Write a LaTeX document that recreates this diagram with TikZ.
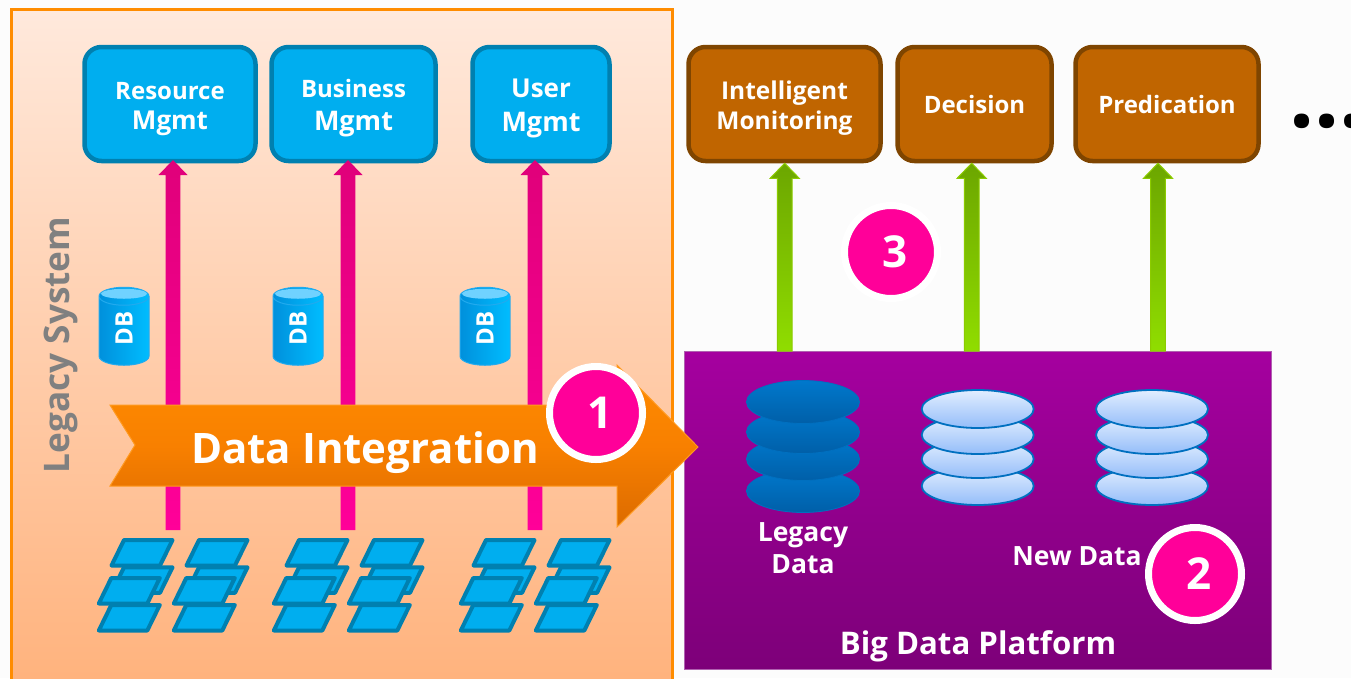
\documentclass[tikz,border=0pt]{standalone}
\usepackage{fontspec}
\setmainfont{Open Sans}
\usetikzlibrary{shapes.geometric,calc}
\definecolor{pagebg}{HTML}{FCFCFC}
\definecolor{skyfill}{HTML}{00AEEF}
\definecolor{skyline}{HTML}{0080B0}
\definecolor{brownfill}{HTML}{C06500}
\definecolor{brownline}{HTML}{7F4500}
\definecolor{badgepink}{HTML}{FF0099}
\definecolor{pinktop}{HTML}{E0007A}
\definecolor{greenedge}{HTML}{8CCB00}
\definecolor{greentop}{HTML}{6CA600}
\definecolor{greenbot}{HTML}{90DD00}
\definecolor{diskline}{HTML}{0070C0}
\definecolor{oldtop}{HTML}{0078CC}
\definecolor{oldbot}{HTML}{005FA8}
\definecolor{newtop}{HTML}{E2EEFF}
\definecolor{newbot}{HTML}{94BDF9}
\definecolor{cylline}{HTML}{22AAEE}
\definecolor{cylbot}{HTML}{0090DC}
\definecolor{cyltop}{HTML}{00BDFF}
\definecolor{cylcap}{HTML}{70D2FF}
\definecolor{panelline}{HTML}{FF8C00}
\definecolor{paneltop}{HTML}{FFE9DC}
\definecolor{panelbot}{HTML}{FFB27C}
\definecolor{legacygrey}{HTML}{808080}
\definecolor{platedge}{HTML}{B060B0}
\definecolor{plattop}{HTML}{A5009F}
\definecolor{platbot}{HTML}{7D0079}
\definecolor{bannerline}{HTML}{FF9A20}
\definecolor{bannertop}{HTML}{FF8C00}
\definecolor{bannermid}{HTML}{F88000}
\definecolor{bannerbot}{HTML}{DC6B00}
\newcommand{\sized}[2][30]{\fontsize{#2}{#1}\selectfont\bfseries}
\newcommand{\flowarrow}[3]{%
	\coordinate (tip) at (#2 |- #3);
	\path[#1] ([xshift=-7.3pt]#2) -- ([xshift=-7.3pt,yshift=-15pt]tip) -- ([xshift=-14.5pt,yshift=-15pt]tip) -- (tip)
		-- ([xshift=14.5pt,yshift=-15pt]tip) -- ([xshift=7.3pt,yshift=-15pt]tip) -- ([xshift=7.3pt]#2) -- cycle;
}
\tikzset{
	mgmtbox/.style={draw, line width=4.5pt, rounded corners=17pt, minimum height=114pt, inner sep=0pt, align=center, text=white},
	legacybox/.style={mgmtbox, fill=skyfill, draw=skyline, outer sep=-1pt},
	appbox/.style={mgmtbox, fill=brownfill, draw=brownline},
	pinkflow/.style={top color=pinktop, bottom color=badgepink},
	greenflow/.style={draw=greenedge, line width=1pt, top color=greentop, bottom color=greenbot},
	disk/.style={ellipse, draw=diskline, inner sep=0pt, outer sep=0pt},
	olddisk/.style={disk, line width=.8pt, minimum width=113pt, minimum height=43pt, top color=oldtop, bottom color=oldbot},
	newdisk/.style={disk, line width=1.8pt, minimum width=112pt, minimum height=38pt, top color=newtop, bottom color=newbot},
	dbcyl/.style={cylinder, rotate=90, aspect=1.05, minimum width=50pt, minimum height=78pt, inner sep=0pt, draw=cylline, line width=1pt, left color=cylbot, right color=cyltop, text=white, font=\sized{24}},
	dbcap/.style={ellipse, fill=cylcap, minimum width=46pt, minimum height=10pt, inner sep=0pt},
	tile/.style={draw=skyline, fill=skyfill, line width=4pt, line join=round},
	badge/.style={circle, fill=badgepink, draw=white, line width=7pt, minimum size=93pt, inner sep=0pt, text=white, font=\sized{44}},
	whitetext/.style={text=white, align=center, inner sep=0pt},
}
\begin{document}
\begin{tikzpicture}[x=1pt,y=-1pt]
	\useasboundingbox (0,0) rectangle (1351,678);
	\fill[pagebg] (0,0) rectangle (1351,678);
	% legacy side
	\draw[draw=panelline, line width=2.5pt, top color=paneltop, bottom color=panelbot] (11.5,9.5) rectangle (672.5,690);
	\node[legacybox, minimum width=171pt, font={\sized[30]{24}}] (res) at (170,104) {\rule{0pt}{28pt}Resource\\\sized[30]{26}Mgmt};
	\node[legacybox, minimum width=164pt, font={\sized[33]{24}}] (bus) at (353.5,104) {\rule{0pt}{27pt}Business\\\sized[33]{27}Mgmt};
	\node[legacybox, minimum width=137pt, font={\sized[34]{26}}] (usr) at (541,104) {\rule{0pt}{27pt}User\\\sized[34]{27}Mgmt};
	\coordinate (resin) at (173,530);
	\coordinate (busin) at (348,530);
	\coordinate (usrin) at (535,530);
	\flowarrow{pinkflow}{resin}{res.south}
	\flowarrow{pinkflow}{busin}{bus.south}
	\flowarrow{pinkflow}{usrin}{usr.south}
	\foreach \n/\x in {1/124,2/298,3/485} {
		\node[dbcyl] (db\n) at (\x,331) {\kern5pt DB};
		\node[dbcap] (cap\n) at ([yshift=-7pt]db\n.top) {};
	}
	\foreach \gx in {0,175,362}
		\foreach \cx in {0,75}
			\foreach \dx/\dy in {0/27.3,-12.7/65,0/0,-12.7/38}
				\draw[tile, shift={(\gx+\cx+\dx-.5,\dy-.5)}] (124.5,540.5) -- (173,540.5) -- (160.5,566) -- (112,566) -- cycle;
	\node[rotate=90, text=legacygrey, inner sep=0pt, font=\sized{35.2}] (legacy) at (61,345) {Legacy System};
	% platform side
	\draw[draw=platedge, line width=.8pt, top color=plattop, bottom color=platbot] (684,351) rectangle (1271,669);
	\node[appbox, minimum width=192pt, font={\sized[30]{24.5}}] (mon) at (784.5,104) {\rule{0pt}{26pt}Intelligent\\Monitoring};
	\node[appbox, minimum width=154pt, font=\sized{24}] (dec) at (974.5,104) {Decision};
	\node[appbox, minimum width=183pt, font=\sized{24}] (pre) at (1167,104) {Predication};
	\coordinate (monin) at (784.7,351);
	\coordinate (decin) at (971.7,351);
	\coordinate (prein) at (1158,351);
	\flowarrow{greenflow}{monin}{mon.south}
	\flowarrow{greenflow}{decin}{dec.south}
	\flowarrow{greenflow}{prein}{pre.south}
	\foreach \n/\y in {4/491,3/459,2/432,1/402}
		\node[olddisk] (old\n) at (803,\y) {};
	\foreach \n/\y in {4/486,3/459,2/435,1/409} {
		\node[newdisk] (newa\n) at (977.7,\y) {};
		\node[newdisk] (newb\n) at (1152,\y) {};
	}
	\node[whitetext, font={\sized[32]{26.5}}] (olddata) at (803,548) {Legacy\\Data};
	\node[whitetext, font=\sized{26.5}] (newdata) at (1077,556) {New Data};
	\node[whitetext, font=\sized{31.2}] (platform) at (978,646) {Big Data Platform};
	\node[inner sep=0pt, font=\sized{88}, anchor=base west] (more) at (1289,127) {...};
	% integration banner
	\path[draw=bannerline, line width=1pt, top color=bannertop, bottom color=bannerbot, middle color=bannermid] (110,405) -- (617,405) -- (617,365) -- (698,447) -- (617,527) -- (617,486) -- (110,486) -- (135,445) -- cycle;
	\node[whitetext, font=\sized{42}] (integration) at (365,453) {Data Integration};
	\node[badge] (one) at (596,413) {\kern8pt1};
	\node[badge] (two) at (1195,574) {\kern8pt2};
	\node[badge] (three) at (891,252) {\kern8pt3};
\end{tikzpicture}
\end{document}
